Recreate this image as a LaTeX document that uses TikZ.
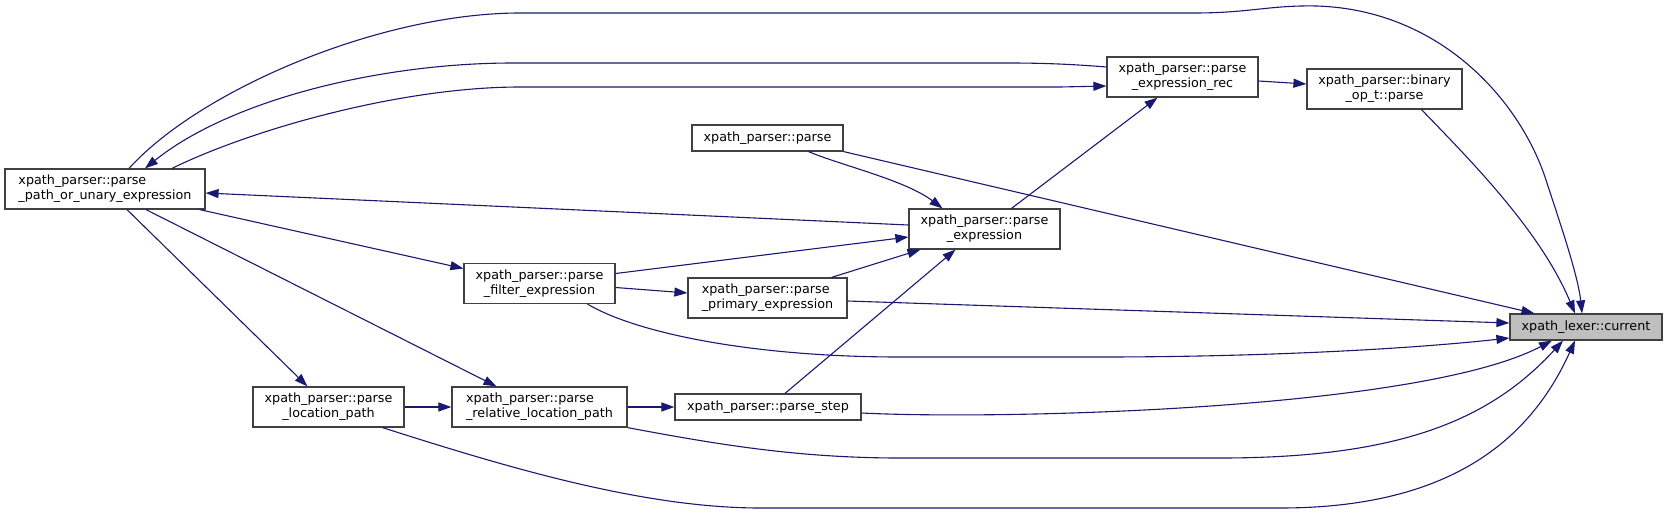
\documentclass[tikz,border=0pt]{standalone}
\usepackage{fontspec}
\setmainfont{DejaVu Sans}
\usetikzlibrary{arrows.meta}
\definecolor{edgeblue}{HTML}{191970}
\definecolor{boxgray}{HTML}{404040}
\definecolor{hitgray}{HTML}{BFBFBF}
\begin{document}
\begin{tikzpicture}[x=1pt, y=1pt, >={Triangle[length=13pt,width=9pt]},
  fn/.style={draw=boxgray, line width=1.2pt, fill=white, inner sep=0pt,
    minimum height=40pt, align=center,
    font=\fontsize{12.75}{15}\selectfont},
  call/.style={->, draw=edgeblue, fill=none, line width=1.1pt}]
\useasboundingbox (0,0) rectangle (1668,-515);
\node[fn, minimum width=200pt, align=left] (PUE) at (105,-189)   {xpath\_parser::parse\\\_path\_or\_unary\_expression};
\node[fn, minimum width=151pt]             (FE)  at (539.5,-283.5) {xpath\_parser::parse\\\_filter\_expression};
\node[fn, minimum width=151pt]             (LP)  at (328.5,-407) {xpath\_parser::parse\\\_location\_path};
\node[fn, minimum width=175pt, align=left] (RLP) at (539.5,-407) {xpath\_parser::parse\\\_relative\_location\_path};
\node[fn, minimum width=151pt]             (ER)  at (1182.5,-77) {xpath\_parser::parse\\\_expression\_rec};
\node[fn, minimum width=155pt]             (BOP) at (1384.5,-89) {xpath\_parser::binary\\\_op\_t::parse};
\node[fn, minimum width=151pt, minimum height=26pt] (P) at (767.5,-138) {xpath\_parser::parse};
\node[fn, minimum width=151pt]             (E)   at (984.5,-229) {xpath\_parser::parse\\\_expression};
\node[fn, minimum width=159pt, align=left] (PE)  at (767.5,-298) {xpath\_parser::parse\\\_primary\_expression};
\node[fn, minimum width=186pt, minimum height=26pt] (PS) at (768,-407) {xpath\_parser::parse\_step};
\node[fn, minimum width=152pt, minimum height=26pt, fill=hitgray] (C) at (1586,-327) {xpath\_lexer::current};
% calls into parse_path_or_unary_expression and parse_expression_rec
\draw[call] ([xshift=24]PUE.north) .. controls (200,-90) and (380,-13) .. (520,-13) -- (1194,-13)
  .. controls (1250,-13) and (1270,-5) .. (1317,-6) .. controls (1440,-10) and (1520,-100) .. (1546,-180)
  .. controls (1559,-220) and (1578,-275) .. ([xshift=-4]C.north);
\draw[call] ([yshift=10]ER.west) .. controls (1070,-64) and (1040,-63) .. (1009,-63) -- (513,-63)
  .. controls (380,-63) and (230,-100) .. ([xshift=40]PUE.north);
\draw[call] ([xshift=67]PUE.north) .. controls (250,-130) and (400,-87) .. (520,-87) -- (1060,-87) -- ([yshift=-9]ER.west);
\draw[call] ([yshift=4]E.west) -- ([yshift=-4]PUE.east);
\draw[call] ([xshift=-6]PUE.south east) -- ([yshift=15]FE.west);
\draw[call] ([xshift=22]PUE.south) -- ([xshift=-21]LP.north);
\draw[call] ([xshift=41]PUE.south) -- ([xshift=-43]RLP.north);
\draw[call] (LP.east) -- (RLP.west);
\draw[call] (RLP.east) -- (PS.west);
% calls into parse_expression
\draw[call] ([xshift=17]PS.north) -- ([xshift=-29]E.south);
\draw[call] ([xshift=64]PE.north) -- ([xshift=-64]E.south);
\draw[call] ([yshift=10]FE.east) -- ([yshift=-8]E.west);
\draw[call] ([yshift=-4]FE.east) -- ([yshift=5]PE.west);
\draw[call] ([xshift=41]P.south) .. controls (840,-165) and (905,-180) .. ([xshift=-42]E.north);
\draw[call] ([xshift=27]E.north) -- ([xshift=-25]ER.south);
\draw[call] ([yshift=-4]ER.east) -- ([yshift=5]BOP.west);
% calls into xpath_lexer::current
\draw[call] ([xshift=37]BOP.south) .. controls (1470,-160) and (1540,-230) .. ([xshift=-11]C.north);
\draw[call] (P.south east) -- ([xshift=25]C.north west);
\draw[call] ([yshift=-3]PE.east) -- ([yshift=4]C.west);
\draw[call] ([xshift=48]FE.south) .. controls (640,-335) and (760,-357) .. (900,-357) -- (1100,-357)
  .. controls (1250,-357) and (1400,-350) .. ([yshift=-11]C.west);
\draw[call] ([yshift=-6]PS.east) .. controls (1000,-420) and (1420,-410) .. ([xshift=-34]C.south);
\draw[call] (RLP.south east) .. controls (720,-445) and (800,-458) .. (900,-458) -- (1220,-458)
  .. controls (1400,-458) and (1490,-420) .. ([xshift=-23]C.south);
\draw[call] ([xshift=54]LP.south) .. controls (500,-465) and (640,-508) .. (760,-508) -- (1280,-508)
  .. controls (1450,-508) and (1530,-440) .. ([xshift=-11]C.south);
\end{tikzpicture}
\end{document}
